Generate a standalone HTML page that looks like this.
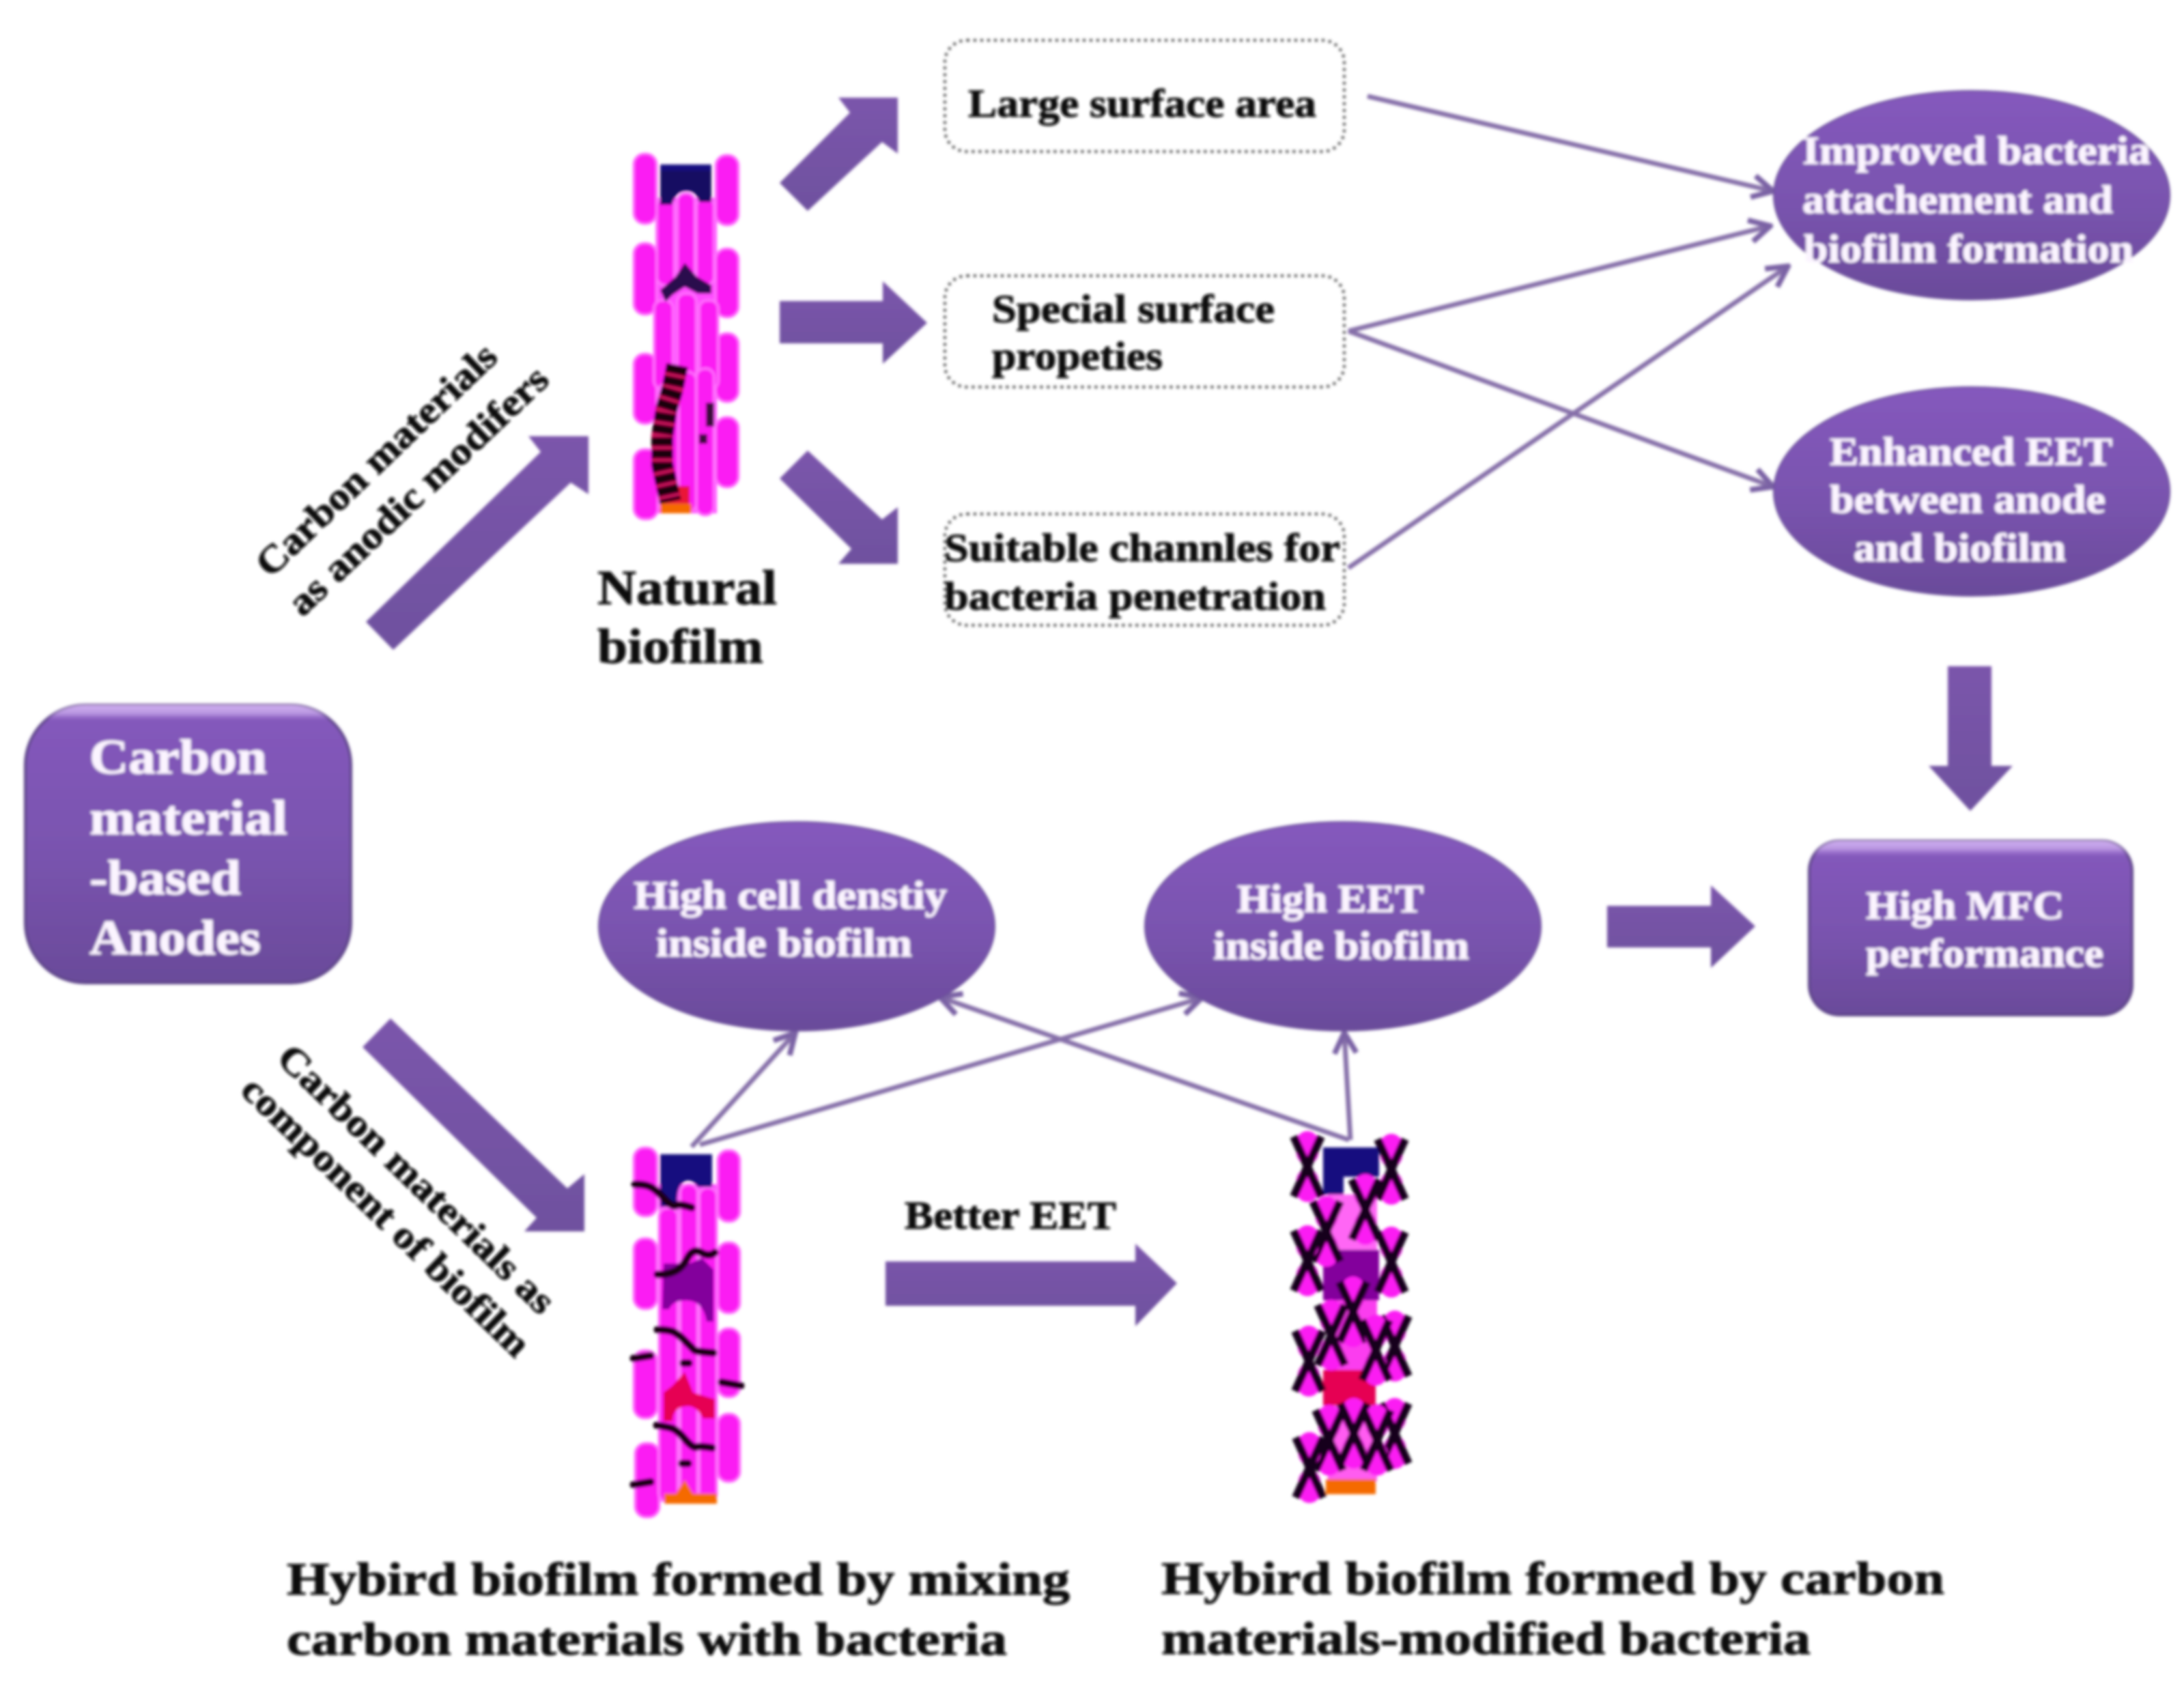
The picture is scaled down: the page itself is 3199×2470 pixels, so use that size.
<!DOCTYPE html>
<html><head><meta charset="utf-8"><title>Carbon material-based anodes</title>
<style>html,body{margin:0;padding:0;background:#fff}svg{display:block}
text{font-family:"Liberation Serif",serif;font-weight:700}
.w{fill:#fbf4ff;stroke:#fbf4ff;stroke-width:1}.k{fill:#111;stroke:#111;stroke-width:1}</style></head><body>
<svg xmlns="http://www.w3.org/2000/svg" width="3199" height="2470" viewBox="0 0 3199 2470">
<defs>
<linearGradient id="g" x1="0" y1="0" x2="0" y2="1"><stop offset="0" stop-color="#8559bd"/><stop offset=".55" stop-color="#7953ae"/><stop offset="1" stop-color="#6a4b9a"/></linearGradient>
<linearGradient id="ga" x1="0" y1="0" x2="0" y2="1"><stop offset="0" stop-color="#7b55ab"/><stop offset="1" stop-color="#6f519f"/></linearGradient>
<linearGradient id="gh" x1="0" y1="0" x2="0" y2="1"><stop offset="0" stop-color="#d0b0f0"/><stop offset=".03" stop-color="#c6a6ea" stop-opacity=".8"/><stop offset=".055" stop-color="#a77ad8" stop-opacity="0"/><stop offset="1" stop-color="#000" stop-opacity="0"/></linearGradient>
<linearGradient id="gh2" x1="0" y1="0" x2="0" y2="1"><stop offset="0" stop-color="#d0b0f0"/><stop offset=".045" stop-color="#c6a6ea" stop-opacity=".8"/><stop offset=".09" stop-color="#a77ad8" stop-opacity="0"/><stop offset="1" stop-color="#000" stop-opacity="0"/></linearGradient>
<filter id="b" x="0" y="0" width="100%" height="100%" filterUnits="userSpaceOnUse"><feGaussianBlur stdDeviation="2"/></filter>
<marker id="m" markerUnits="userSpaceOnUse" markerWidth="50" markerHeight="50" viewBox="0 0 50 50" refX="46" refY="25" orient="auto"><path d="M16 9 L46 25 L16 41" fill="none" stroke="#7a62a4" stroke-width="8"/></marker>
<g id="x"><rect x="-16" y="-52" width="32" height="48" rx="16" fill="#fb1cf3"/><rect x="-16" y="4" width="32" height="48" rx="16" fill="#fb1cf3"/><path d="M-20 -44 L20 44 M20 -44 L-20 44" stroke="#16001a" stroke-width="12" fill="none"/></g>
</defs>
<rect width="3199" height="2470" fill="#fff"/>
<g filter="url(#b)">

<!-- dotted boxes -->
<g fill="none" stroke="#4a4a4a" stroke-width="4" stroke-dasharray="4 6">
<rect x="1384" y="59" width="585" height="163" rx="32"/>
<rect x="1384" y="404" width="585" height="163" rx="32"/>
<rect x="1384" y="753" width="585" height="163" rx="32"/>
</g>

<!-- block arrows -->
<g fill="url(#ga)">
<polygon points="1142,268 1183,309 1292,208 1315,225 1315,143 1228,143 1245,165"/>
<polygon points="1142,441 1293,441 1293,412 1358,473 1293,533 1293,503 1142,503"/>
<polygon points="1142,701 1183,660 1292,761 1315,743 1315,826 1228,826 1247,804"/>
<polygon points="536,911 576,952 836,707 862,724 862,639 774,639 792,662"/>
<polygon points="531,1534 572,1492 831,1741 856,1720 856,1804 768,1804 786,1784"/>
<polygon points="2853,976 2917,976 2917,1122 2948,1122 2886,1188 2825,1122 2853,1122"/>
<polygon points="2354,1327 2506,1327 2506,1297 2571,1357 2506,1418 2506,1388 2354,1388"/>
<polygon points="1297,1848 1663,1848 1663,1822 1724,1880 1663,1943 1663,1913 1297,1913"/>
</g>

<!-- connectors -->
<g stroke="#8670a9" stroke-width="7" fill="none" marker-end="url(#m)">
<line x1="2003" y1="141" x2="2597" y2="280"/>
<line x1="1975" y1="485" x2="2593" y2="331"/>
<line x1="1975" y1="485" x2="2597" y2="713"/>
<line x1="1975" y1="832" x2="2619" y2="390"/>
<line x1="1013" y1="1680" x2="1165" y2="1513"/>
<line x1="1025" y1="1677" x2="1760" y2="1462"/>
<line x1="1976" y1="1670" x2="1377" y2="1461"/>
<line x1="1978" y1="1670" x2="1969" y2="1513"/>
</g>

<!-- rounded rectangles -->
<rect x="37" y="1033" width="477" height="407" rx="88" fill="url(#g)" stroke="#5d4488" stroke-width="4"/>
<rect x="37" y="1033" width="477" height="407" rx="88" fill="url(#gh)"/>
<rect x="2650" y="1232" width="473" height="255" rx="44" fill="url(#g)" stroke="#5d4488" stroke-width="4"/>
<rect x="2650" y="1232" width="473" height="255" rx="44" fill="url(#gh2)"/>

<!-- ellipses -->
<g fill="url(#g)" stroke="#6a4f9a" stroke-width="2">
<ellipse cx="2888" cy="286" rx="290" ry="153"/>
<ellipse cx="2888" cy="720" rx="290" ry="153"/>
<ellipse cx="1167" cy="1357" rx="290" ry="153"/>
<ellipse cx="1967" cy="1357" rx="290" ry="153"/>
</g>

<!-- biofilm 1 -->
<rect x="960" y="290" width="90" height="462" fill="#ff4cff"/>
<g fill="#fb1cf3" stroke="#ff74ff" stroke-width="3">
<rect x="928" y="225" width="34" height="103" rx="16"/><rect x="928" y="356" width="34" height="105" rx="16"/><rect x="928" y="518" width="34" height="103" rx="16"/><rect x="928" y="658" width="36" height="103" rx="16"/>
<rect x="1048" y="227" width="34" height="103" rx="16"/><rect x="1048" y="364" width="34" height="101" rx="16"/><rect x="1048" y="488" width="34" height="101" rx="16"/><rect x="1048" y="611" width="34" height="103" rx="16"/>
<rect x="962" y="290" width="26" height="128" rx="12"/><rect x="992" y="283" width="26" height="125" rx="12"/><rect x="1020" y="290" width="26" height="128" rx="12"/>
<rect x="958" y="440" width="28" height="130" rx="12"/><rect x="992" y="430" width="28" height="130" rx="12"/><rect x="1024" y="440" width="28" height="130" rx="12"/>
<rect x="966" y="560" width="28" height="190" rx="12"/><rect x="994" y="545" width="26" height="205" rx="12"/><rect x="1020" y="540" width="26" height="215" rx="12"/>
</g>
<path d="M967 241H1042V296H1024Q1020 280 1005 280Q990 280 984 300H967Z" fill="#140a80"/>
<path d="M967 250H1042V296H1024Q1020 278 1005 278Q990 278 984 300H967Z" fill="#10084e" opacity=".6"/>
<path d="M967 425L990 405L1003 385L1020 405L1042 418V430H1022L1003 420L985 432L975 442Z" fill="#2b0a4d"/>
<path d="M967 712H1010V750H967Z" fill="#ea1238"/><rect x="967" y="738" width="46" height="14" fill="#f56a00"/>
<polyline points="992,535 985,570 976,600 970,640 970,680 982,735" fill="none" stroke="#c8105a" stroke-width="32"/>
<polyline points="992,535 985,570 976,600 970,640 970,680 982,735" fill="none" stroke="#1a0210" stroke-width="32" stroke-dasharray="13 5"/>
<path d="M1040 590V625M1030 636V650" stroke="#3a0a3a" stroke-width="12" fill="none"/>

<!-- biofilm 2 -->
<rect x="965" y="1735" width="85" height="465" fill="#ff4cff"/>
<g fill="#fb1cf3" stroke="#ff74ff" stroke-width="3">
<rect x="928" y="1681" width="35" height="101" rx="16"/><rect x="928" y="1814" width="35" height="104" rx="16"/><rect x="928" y="1978" width="35" height="100" rx="16"/><rect x="930" y="2114" width="36" height="109" rx="16"/>
<rect x="1051" y="1685" width="33" height="105" rx="15"/><rect x="1051" y="1820" width="33" height="104" rx="15"/><rect x="1051" y="1946" width="33" height="101" rx="15"/><rect x="1051" y="2071" width="33" height="100" rx="15"/>
<rect x="965" y="1770" width="28" height="430" rx="12"/><rect x="996" y="1735" width="26" height="465" rx="12"/><rect x="1024" y="1740" width="26" height="460" rx="12"/>
</g>
<path d="M967 1691H1043V1739H1022Q1015 1728 1005 1730Q990 1735 992 1768H967Z" fill="#14087f"/>
<path d="M972 1851H1010L1028 1843 1045 1860V1936H1035Q1030 1905 1005 1905Q985 1905 980 1918H970Z" fill="#83009c"/>
<path d="M972 2040L985 2030 1003 2010 1015 2040 1047 2050V2078H1030Q1020 2058 1005 2060Q985 2062 985 2082H972Z" fill="#e60052"/>
<path d="M973 2188H990L1003 2168 1015 2188H1050V2203H973Z" fill="#f56a00"/>
<g fill="none" stroke="#1a0018" stroke-width="11" stroke-linecap="round">
<path d="M930 1735Q945 1735 953 1739T973 1756T990 1766T1013 1769"/>
<path d="M963 1867Q975 1868 987 1863T1007 1843T1027 1835T1047 1835"/>
<path d="M963 1948Q975 1948 983 1950T1003 1964T1017 1978T1045 1982"/>
<path d="M962 2088Q975 2090 983 2092T1003 2108T1020 2120T1043 2121"/>
<path d="M928 1990L953 1986M1057 2025L1085 2030M928 2175L953 2171M1001 1997H1009M999 2144H1008"/>
</g>

<!-- biofilm 3 -->
<rect x="1945" y="1750" width="72" height="85" fill="#ff66f5"/>
<rect x="1945" y="1905" width="72" height="104" fill="#fb3cef"/>
<rect x="1945" y="2055" width="72" height="115" fill="#ff5cf0"/>
<path d="M1938 1681H2020V1724H1968V1750H1938Z" fill="#14087f"/>
<path d="M1938 1831H2020V1905H1938Z" fill="#83009c"/>
<path d="M1938 2007H2015V2059H1938Z" fill="#e60052"/>
<rect x="1942" y="2167" width="73" height="22" fill="#f56a00"/>
<use href="#x" x="1915" y="1709"/><use href="#x" x="2038" y="1713"/><use href="#x" x="1943" y="1804"/><use href="#x" x="2000" y="1772"/>
<use href="#x" x="1915" y="1847"/><use href="#x" x="2038" y="1849"/><use href="#x" x="1982" y="1922"/><use href="#x" x="1950" y="1956"/>
<use href="#x" x="1917" y="1994"/><use href="#x" x="2043" y="1972"/><use href="#x" x="2015" y="1978"/><use href="#x" x="1947" y="2110"/>
<use href="#x" x="1983" y="2100"/><use href="#x" x="2043" y="2100"/><use href="#x" x="2017" y="2110"/><use href="#x" x="1918" y="2150"/>

<!-- white text on purple -->
<g class="w" font-size="72">
<text x="131" y="1133" textLength="260" lengthAdjust="spacingAndGlyphs">Carbon</text>
<text x="131" y="1222" textLength="290" lengthAdjust="spacingAndGlyphs">material</text>
<text x="131" y="1310" textLength="222" lengthAdjust="spacingAndGlyphs">-based</text>
<text x="131" y="1398" textLength="251" lengthAdjust="spacingAndGlyphs">Anodes</text>
</g>
<g class="w" font-size="58">
<text x="2640" y="240" textLength="510" lengthAdjust="spacingAndGlyphs">Improved bacteria</text>
<text x="2640" y="312" textLength="455" lengthAdjust="spacingAndGlyphs">attachement and</text>
<text x="2642" y="384" textLength="483" lengthAdjust="spacingAndGlyphs">biofilm formation</text>
<text x="2680" y="681" textLength="414" lengthAdjust="spacingAndGlyphs">Enhanced EET</text>
<text x="2680" y="751" textLength="404" lengthAdjust="spacingAndGlyphs">between anode</text>
<text x="2715" y="822" textLength="311" lengthAdjust="spacingAndGlyphs">and biofilm</text>
<text x="928" y="1331" textLength="459" lengthAdjust="spacingAndGlyphs">High cell denstiy</text>
<text x="961" y="1401" textLength="375" lengthAdjust="spacingAndGlyphs">inside biofilm</text>
<text x="1812" y="1336" textLength="273" lengthAdjust="spacingAndGlyphs">High EET</text>
<text x="1777" y="1405" textLength="375" lengthAdjust="spacingAndGlyphs">inside biofilm</text>
<text x="2733" y="1346" textLength="290" lengthAdjust="spacingAndGlyphs">High MFC</text>
<text x="2733" y="1416" textLength="348" lengthAdjust="spacingAndGlyphs">performance</text>
</g>

<!-- black text -->
<g class="k" font-size="58">
<text x="1418" y="171" textLength="510" lengthAdjust="spacingAndGlyphs">Large surface area</text>
<text x="1453" y="472" textLength="414" lengthAdjust="spacingAndGlyphs">Special surface</text>
<text x="1453" y="541" textLength="250" lengthAdjust="spacingAndGlyphs">propeties</text>
<text x="1383" y="822" textLength="580" lengthAdjust="spacingAndGlyphs">Suitable channles for</text>
<text x="1383" y="893" textLength="559" lengthAdjust="spacingAndGlyphs">bacteria penetration</text>
<text x="1325" y="1800" textLength="310" lengthAdjust="spacingAndGlyphs">Better EET</text>
</g>
<g class="k" font-size="72">
<text x="875" y="885" textLength="263" lengthAdjust="spacingAndGlyphs">Natural</text>
<text x="875" y="971" textLength="243" lengthAdjust="spacingAndGlyphs">biofilm</text>
</g>
<g class="k" font-size="68">
<text x="420" y="2336" textLength="1147" lengthAdjust="spacingAndGlyphs">Hybird biofilm formed by mixing</text>
<text x="420" y="2424" textLength="1055" lengthAdjust="spacingAndGlyphs">carbon materials with bacteria</text>
<text x="1701" y="2335" textLength="1147" lengthAdjust="spacingAndGlyphs">Hybird biofilm formed by carbon</text>
<text x="1701" y="2423" textLength="951" lengthAdjust="spacingAndGlyphs">materials-modified bacteria</text>
</g>
<g class="k" font-size="56">
<text transform="translate(396 848) rotate(-43.8)" textLength="465" lengthAdjust="spacingAndGlyphs">Carbon materials</text>
<text transform="translate(443 905) rotate(-43.5)" textLength="502" lengthAdjust="spacingAndGlyphs">as anodic modifers</text>
<text transform="translate(403 1553) rotate(44)" textLength="540" lengthAdjust="spacingAndGlyphs">Carbon materials as</text>
<text transform="translate(350 1600) rotate(44)" textLength="563" lengthAdjust="spacingAndGlyphs">component of biofilm</text>
</g>
</g>
</svg>
</body></html>
